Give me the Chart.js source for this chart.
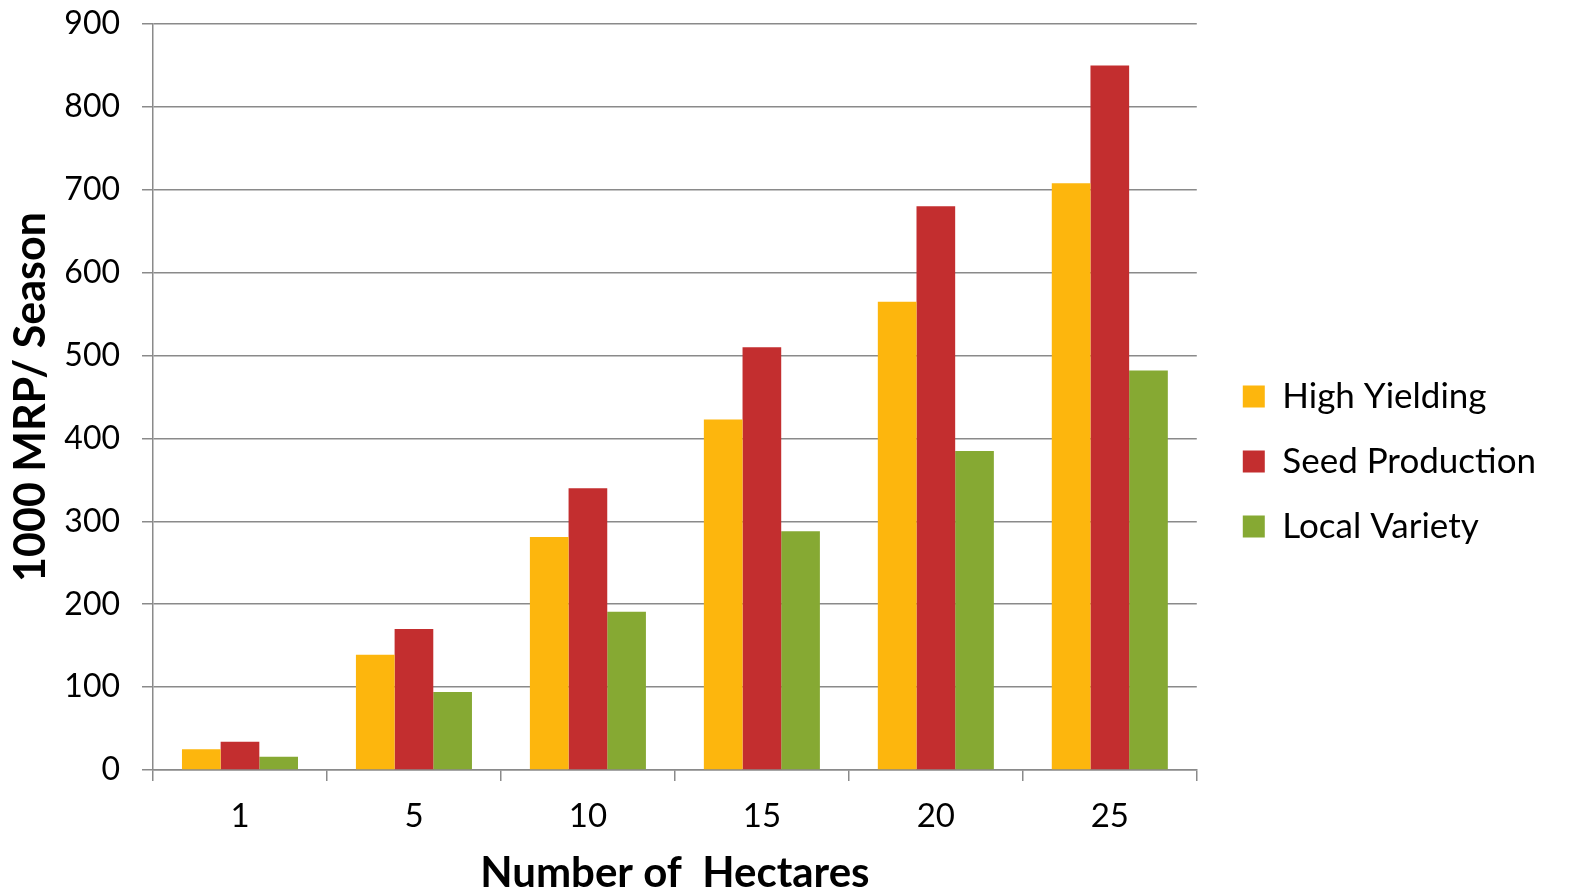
<!DOCTYPE html>
<html>
<head>
<meta charset="utf-8">
<script src="https://cdn.jsdelivr.net/npm/chart.js@4/dist/chart.umd.min.js"></script>
<style>
  html, body { margin: 0; padding: 0; background: #ffffff; }
  canvas { display: block; }
</style>
</head>
<body>
<canvas id="chart" width="1580" height="888"></canvas>
<script>
// Farm size categories (hectares)
const hectares = ['1', '5', '10', '15', '20', '25'];

// Returns per season, in thousands of MRP
const highYielding   = [25, 139, 281, 423, 565, 708];
const seedProduction = [34, 170, 340, 510, 680, 850];
const localVariety   = [16, 94, 191, 288, 385, 482];

// Value axis range
const yMin = 0;
const yMax = 900;
const yStep = 100;

const FONT = 'Lato, "Open Sans", "DejaVu Sans", sans-serif';
const GRID = '#8a8a8a';

new Chart(document.getElementById('chart'), {
  type: 'bar',
  data: {
    labels: hectares,
    datasets: [
      { label: 'High Yielding',   data: highYielding,   backgroundColor: '#FDB60D' },
      { label: 'Seed Production', data: seedProduction, backgroundColor: '#C32E2F' },
      { label: 'Local Variety',   data: localVariety,   backgroundColor: '#86A933' }
    ]
  },
  options: {
    responsive: false,
    animation: false,
    devicePixelRatio: 1,
    layout: { padding: { top: 24, right: 34, bottom: -11, left: 0 } },
    datasets: { bar: { barPercentage: 1, categoryPercentage: 0.667 } },
    plugins: {
      tooltip: { enabled: false },
      legend: {
        position: 'right',
        maxWidth: 420,
        labels: {
          boxWidth: 22,
          boxHeight: 22,
          padding: 30,
          color: '#000000',
          font: { family: FONT, size: 35 }
        }
      }
    },
    scales: {
      x: {
        grid: { drawOnChartArea: false, color: GRID, lineWidth: 1.5, tickLength: 11 },
        border: { color: GRID, width: 1.5 },
        ticks: { color: '#000000', font: { family: FONT, size: 33 }, padding: 16 },
        title: {
          display: true,
          text: 'Number of  Hectares',
          color: '#000000',
          font: { family: FONT, size: 42, weight: 'bold' },
          padding: { top: -4, bottom: 0 }
        }
      },
      y: {
        min: yMin,
        max: yMax,
        ticks: { stepSize: yStep, color: '#000000', font: { family: FONT, size: 32 }, padding: 22 },
        grid: { color: GRID, lineWidth: 1.5, tickLength: 11 },
        border: { color: GRID, width: 1.5 },
        title: {
          display: true,
          text: '1000 MRP/ Season',
          color: '#000000',
          font: { family: FONT, size: 43, weight: 'bold' },
          padding: { top: 5, bottom: 0 }
        },
        afterFit(scale) {
          scale.width = 153;
          scale.paddingTop = 0;
          scale.paddingBottom = 0;
        }
      },
      gap: {
        position: 'right',
        display: true,
        grid: { display: false },
        border: { display: false },
        ticks: { display: false },
        afterFit(scale) { scale.width = 16; }
      }
    }
  }
});
</script>
</body>
</html>
